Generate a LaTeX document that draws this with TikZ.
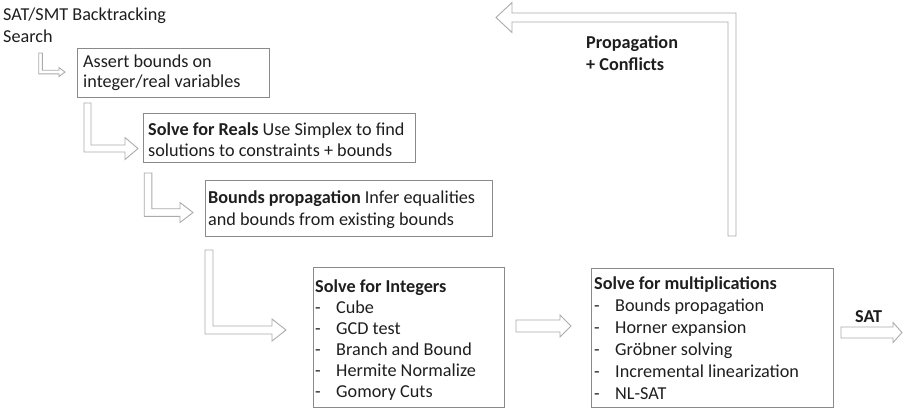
\documentclass[tikz,border=0pt]{standalone}
\usepackage{fontspec}
\setmainfont{Carlito}
\usetikzlibrary{calc}

\definecolor{boxgray}{HTML}{8A8A8A}
\definecolor{arrowgray}{HTML}{ABABAB}
\definecolor{inkc}{HTML}{1E1E1E}

% list line with a dash in front
\newcommand{\listline}[1]{\makebox[21pt][l]{-}#1}

% hollow bent arrow: down from #1, then right to the tip #2
\newcommand{\bentarrow}[5]{%
  \draw[blockarrow] let \p1=(#1), \p2=(#2) in
    (\x1-#3,\y1) -- (\x1-#3,\y2-#3) -- (\x2-#5,\y2-#3) -- (\x2-#5,\y2-#4) -- (\x2,\y2)
    -- (\x2-#5,\y2+#4) -- (\x2-#5,\y2+#3) -- (\x1+#3,\y2+#3) -- (\x1+#3,\y1) -- cycle;}

% hollow straight arrow from #1 to the tip #2
\newcommand{\flatarrow}[5]{%
  \draw[blockarrow] let \p1=(#1), \p2=(#2) in
    (\x1,\y1+#3) -- (\x2-#5,\y1+#3) -- (\x2-#5,\y1+#4) -- (\x2,\y1)
    -- (\x2-#5,\y1-#4) -- (\x2-#5,\y1-#3) -- (\x1,\y1-#3) -- cycle;}

\begin{document}
\begin{tikzpicture}[x=1pt,y=-1pt,
  every node/.style={text=inkc},
  box/.style={draw=boxgray, line width=0.9pt, anchor=north west, inner sep=0},
  txt/.style={anchor=base west, align=left, inner sep=0, font=\fontsize{18.2}{#1}\selectfont},
  txt/.default=21.5,
  blockarrow/.style={draw=arrowgray, line width=0.9pt, fill=white}]
\useasboundingbox (0,0) rectangle (907,408);

% the boxes
\node[box, minimum width=192, minimum height=49] (assert) at (77,48) {};
\node[box, minimum width=272, minimum height=49] (reals) at (143,113) {};
\node[box, minimum width=287, minimum height=56] (bprop) at (205,180) {};
\node[box, minimum width=191, minimum height=140] (ints) at (313,267) {};
\node[box, minimum width=242, minimum height=139] (mult) at (591,268) {};

% the texts (placed at their last baseline)
\node[txt=22] (title) at (3,42) {SAT/SMT Backtracking\\Search};
\node[txt=20] (asserttxt) at ($(assert.south west)+(6,-10)$) {Assert bounds on\\integer/real variables};
\node[txt=21] (realstxt) at ($(reals.south west)+(5,-6)$)
  {\textbf{Solve for Reals} Use Simplex to find\\solutions to constraints + bounds};
\node[txt=22] (bproptxt) at ($(bprop.south west)+(3,-11)$)
  {\textbf{Bounds propagation} Infer equalities\\and bounds from existing bounds};
\node[txt=21] (intstxt) at ($(ints.south west)+(2,-10)$)
  {\textbf{Solve for Integers}\\\listline{Cube}\\\listline{GCD test}\\\listline{Branch and Bound}\\\listline{Hermite Normalize}\\\listline{Gomory Cuts}};
\node[txt=22] (multtxt) at ($(mult.south west)+(3,-8)$)
  {\textbf{Solve for multiplications}\\\listline{Bounds propagation}\\\listline{Horner expansion}\\\listline{Gröbner solving}\\\listline{Incremental linearization}\\\listline{NL-SAT}};
\node[txt=22, font=\fontsize{18.2}{22}\selectfont\bfseries] (conf) at (586,70) {Propagation\\+ Conflicts};
\node[txt, font=\fontsize{18.2}{22}\selectfont\bfseries] (sat) at (855,322) {SAT};

% arrow ends
\coordinate (a1s) at (40.5,53);   \coordinate (a1t) at (65,72);
\coordinate (a2s) at (87.5,103);  \coordinate (a2t) at (138,148.5);
\coordinate (a3s) at (148,173);   \coordinate (a3t) at (193,212.5);
\coordinate (a4s) at (209,250);   \coordinate (a4t) at (286,330);
\coordinate (a5s) at (516,326);   \coordinate (a5t) at (571,326);
\coordinate (sats) at (841,332.5); \coordinate (satt) at (902,332.5);
\coordinate (fbs) at (732,236);   \coordinate (fbt) at (496,17.5);

\bentarrow{a1s}{a1t}{1.8pt}{4.5pt}{6pt}
\bentarrow{a2s}{a2t}{3.5pt}{11pt}{13pt}
\bentarrow{a3s}{a3t}{3.8pt}{10pt}{13pt}
\bentarrow{a4s}{a4t}{4pt}{11pt}{14pt}
\flatarrow{a5s}{a5t}{6pt}{11pt}{11pt}
\flatarrow{sats}{satt}{5.5pt}{10pt}{9pt}

% feedback arrow: up, then left
\draw[blockarrow] let \p1=(fbs), \p2=(fbt) in
  (\x1+4pt,\y1) -- (\x1+4pt,\y2+4.5pt) -- (\x2+16pt,\y2+4.5pt) -- (\x2+16pt,\y2+15pt) -- (\x2,\y2)
  -- (\x2+16pt,\y2-15pt) -- (\x2+16pt,\y2-4.5pt) -- (\x1-4pt,\y2-4.5pt) -- (\x1-4pt,\y1) -- cycle;
\end{tikzpicture}
\end{document}
